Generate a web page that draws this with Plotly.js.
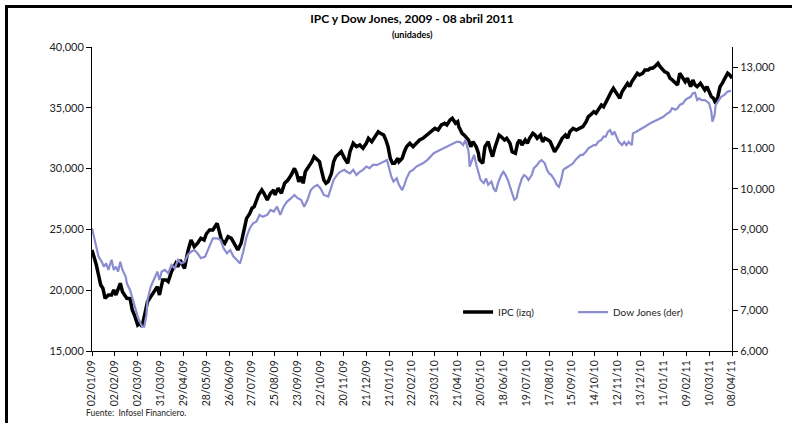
<!DOCTYPE html>
<html><head><meta charset="utf-8">
<script src="https://cdn.plot.ly/plotly-3.0.1.min.js"></script>
<style>
body{margin:0;background:#fff}
#wrap{position:relative;width:792px;height:423px;overflow:hidden}
#chart{width:792px;height:423px}
.bl{position:absolute;background:#000}
</style></head>
<body>
<div id="wrap"><div id="chart"></div>
<div class="bl" style="left:5px;top:5px;width:787px;height:3px"></div>
<div class="bl" style="left:5px;top:5px;width:3px;height:418px"></div>
</div>
<script>
// Category tick labels (every 21 trading days)
const dateLabels = ['02/01/09','02/02/09','02/03/09','31/03/09','29/04/09','28/05/09','26/06/09','27/07/09','25/08/09','23/09/09','22/10/09','20/11/09','21/12/09','21/01/10','22/02/10','23/03/10','21/04/10','20/05/10','18/06/10','19/07/10','17/08/10','15/09/10','14/10/10','12/11/10','13/12/10','11/01/11','09/02/11','10/03/11','08/04/11'];
const labelStep = 21;

// IPC (left axis): trading-day index and value
const ipcIdx = [0,2,4,6,8,10,12,15,18,20,22,26,28,32,35,37,39,42,44,46,48,51,54,58,60,62,65,68,70,73,77,79,81,85,88,91,94,97,100,103,105,108,111,115,119,122,125,128,131,134,137,140,142,145,147,149,151,153,156,158,161,164,167,168,171,174,177,180,183,186,188,190,192,194,196,199,202,204,206,209,210,213,215,217,220,222,224,226,229,232,235,237,240,243,246,249,252,254,257,260,263,265,268,270,272,274,276,278,281,282,285,287,289,292,295,298,301,304,308,312,315,318,321,324,326,329,331,334,336,337,340,342,344,346,348,350,353,355,356,359,361,364,366,368,370,372,374,376,379,381,384,386,389,391,393,395,398,400,402,405,407,409,412,414,416,419,421,423,425,428,430,432,435,437,439,442,445,448,451,454,456,458,461,463,465,468,470,472,474,477,479,481,483,485,487,490,492,494,496,499,501,503,506,508,511,513,515,517,520,522,524,526,529,531,533,536,538,540,542,545,547,550,552,554,556,559,561,563,565,567,569,571,573,575,577,579,582,584,586,588];
const ipcVal = [23310,22750,22070,21250,20430,20160,19330,19610,19600,20020,19610,20570,19880,19330,19300,18370,17960,17140,17280,17000,17820,19050,19470,20020,20290,19610,20840,20840,20700,21520,22210,21930,22480,21800,23170,24130,23580,23860,24270,24130,24620,24950,24950,25500,24130,23860,24400,24270,23720,23310,23860,24950,25910,26320,26740,26870,27420,27830,28240,27970,27420,27970,28240,27830,28380,27970,28790,29060,29470,30020,29610,28920,29330,28790,29750,30160,30570,30980,30850,30570,30160,29060,28790,28920,29610,30570,30980,31120,31390,30850,30440,31390,32080,31800,31940,31670,32080,32490,32210,32620,33030,32900,32760,32350,31800,30850,30440,30440,30850,30570,30850,31390,31800,32080,31800,32080,32350,32490,32760,33030,33310,33170,33590,33730,33590,34000,34140,33730,33860,33450,32900,32760,32490,32350,31800,32210,31800,31260,30710,30440,31800,32210,31530,30980,31670,32350,32760,32620,32350,32490,32080,31390,31260,32080,32350,31940,32350,32080,32490,32900,32760,32490,32760,32210,32490,32350,32210,31800,31390,31800,32080,32490,32760,32490,33030,33310,33170,33310,33450,33860,34270,34410,34680,34550,34820,35230,35090,35370,35780,36320,36600,36320,36050,35780,36320,36740,37010,36740,37150,37560,37840,37700,37840,38110,38110,38250,38250,38380,38660,38380,38110,37970,37840,37430,37290,37010,36880,37840,37560,37150,37430,36740,37290,36880,36740,37010,36740,36460,36740,36320,35910,35780,35370,35910,36740,37010,37430,37840,37700,37430];

// Dow Jones (right axis): trading-day index and value
const djIdx = [0,2,4,6,9,11,13,15,18,20,22,24,26,28,31,32,35,37,39,42,44,46,48,50,51,54,58,60,62,64,67,70,73,76,79,82,85,88,91,94,97,100,104,107,111,115,118,121,124,127,130,133,136,139,142,145,148,151,154,157,161,164,167,170,173,176,179,183,186,189,192,195,198,201,204,207,210,213,217,219,222,225,228,232,234,237,240,243,246,249,252,255,258,262,265,268,271,273,275,277,280,282,285,287,289,292,295,298,301,304,308,311,314,317,320,323,326,329,332,335,338,341,343,346,347,349,351,353,355,357,360,362,364,367,369,371,373,376,378,380,382,384,386,388,390,392,395,397,399,401,404,406,409,411,413,416,418,420,422,425,427,429,431,433,435,438,440,442,444,447,449,451,454,456,458,461,463,465,468,470,472,474,476,478,480,482,484,487,489,491,493,496,497,500,503,506,509,513,516,519,522,525,528,531,533,536,538,540,543,545,547,550,552,554,556,558,560,563,565,567,569,570,572,573,576,578,581,584,587];
const djVal = [9030,8780,8570,8330,8200,8080,8160,8000,8250,8000,8080,7960,8200,8000,7830,7670,7500,7300,7090,6850,6720,6600,6600,6890,7260,7590,7830,7960,7750,7960,8000,7920,8120,8040,8250,8160,8200,8370,8450,8490,8410,8290,8330,8530,8780,8780,8740,8530,8410,8490,8330,8250,8160,8450,8820,9030,9150,9190,9360,9310,9360,9480,9440,9560,9360,9560,9680,9770,9850,9770,9730,9560,9730,9970,10050,10100,10010,9850,9810,9970,10220,10340,10420,10470,10420,10380,10470,10340,10420,10470,10550,10510,10590,10590,10630,10670,10710,10510,10300,10180,10260,10100,9970,10100,10260,10420,10470,10550,10590,10630,10710,10790,10880,10920,10960,11000,11040,11080,11120,11160,11160,11080,11210,10920,10550,10710,10840,10600,10400,10220,10140,10260,10100,10180,10010,9930,10140,10340,10420,10340,10220,10050,9850,9730,9770,10010,10260,10340,10300,10220,10340,10510,10590,10670,10710,10630,10470,10380,10340,10220,10100,10050,10220,10470,10510,10550,10590,10630,10710,10790,10840,10840,10920,11000,11040,11080,11080,11160,11210,11290,11290,11410,11450,11330,11410,11290,11160,11080,11160,11080,11160,11080,11370,11410,11450,11490,11550,11620,11660,11700,11740,11780,11850,11900,11990,11950,11990,12070,12110,12190,12230,12270,12360,12370,12190,12230,12190,12190,12150,12110,11900,11660,11820,12070,12190,12270,12320,12400,12420];

const leftTicks = [15000,20000,25000,30000,35000,40000];
const rightTicks = [6000,7000,8000,9000,10000,11000,12000,13000];

const FONT = 'Lato, "Open Sans", sans-serif';
const tickVals = dateLabels.map((d, i) => i * labelStep);

const traces = [
  {x: ipcIdx, y: ipcVal, name: 'IPC (izq)', type: 'scatter', mode: 'lines',
   line: {color: '#000000', width: 3.5}, yaxis: 'y'},
  {x: djIdx, y: djVal, name: 'Dow Jones (der)', type: 'scatter', mode: 'lines',
   line: {color: '#8C8CD0', width: 2.2}, yaxis: 'y2'}
];

const layout = {
  width: 792, height: 423,
  margin: {l: 92, r: 60, t: 47, b: 72, pad: 0},
  paper_bgcolor: '#ffffff', plot_bgcolor: '#ffffff',
  font: {family: FONT, size: 11, color: '#222'},
  showlegend: true,
  title: {text: '<b>IPC y Dow Jones, 2009 - 08 abril 2011</b>', font: {family: FONT, size: 12, color: '#000'},
          xref: 'container', x: 412/792, xanchor: 'center', yref: 'container', y: 1 - 19/423, yanchor: 'middle'},
  xaxis: {range: [0, (dateLabels.length - 1) * labelStep], tickmode: 'array', tickvals: tickVals, ticktext: dateLabels,
          tickangle: -90, ticks: 'outside', ticklen: 4, tickcolor: '#000', showline: true, linecolor: '#000', linewidth: 1,
          showgrid: false, zeroline: false, tickfont: {size: 10.5, color: '#222'}, automargin: false, fixedrange: true},
  yaxis: {range: [15000, 40000], tickmode: 'array', tickvals: leftTicks, tickformat: ',d', ticks: 'outside', ticklen: 5,
          tickcolor: '#000', showline: true, linecolor: '#000', linewidth: 1, showgrid: false, zeroline: false,
          tickfont: {size: 11, color: '#222'}, automargin: false, fixedrange: true},
  yaxis2: {range: [6000, 13500], overlaying: 'y', side: 'right', tickmode: 'array', tickvals: rightTicks, tickformat: ',d',
           ticks: 'outside', ticklen: 5, tickcolor: '#000', showline: true, linecolor: '#000', linewidth: 1,
           showgrid: false, zeroline: false, tickfont: {size: 11, color: '#222'}, automargin: false, fixedrange: true},
  legend: {orientation: 'h', x: 0.572, y: 0.128, xanchor: 'left', yanchor: 'middle', font: {size: 10, color: '#222'},
           bgcolor: 'rgba(0,0,0,0)', entrywidth: 70, entrywidthmode: 'pixels'},
  annotations: [
    {text: '<b>(unidades)</b>', xref: 'paper', yref: 'paper', x: 0.5, y: 1.0395, xanchor: 'center', yanchor: 'middle',
     showarrow: false, font: {family: FONT, size: 9, color: '#000'}},
    {text: 'Fuente:  Infosel Financiero.', xref: 'paper', yref: 'paper', x: -0.013, y: -0.205, xanchor: 'left', yanchor: 'middle',
     showarrow: false, font: {family: FONT, size: 8.5, color: '#222'}}
  ]
};

Plotly.newPlot('chart', traces, layout, {displayModeBar: false, staticPlot: true});
</script>
</body></html>
